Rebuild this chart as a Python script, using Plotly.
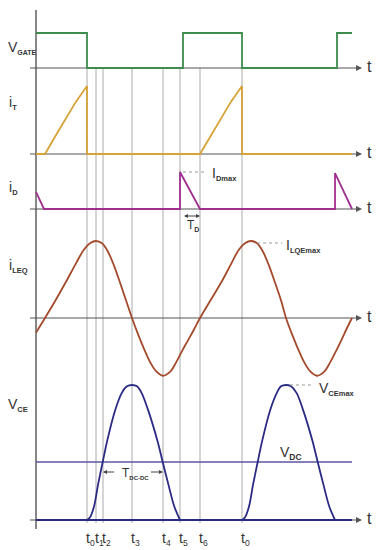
import plotly.graph_objects as go

W, H = 377, 550

# ---------------- data (time in arbitrary units, t = 0 at the vertical axis) ----------------
t_events = [51, 60, 67, 96, 127, 144, 164, 206]
t_event_labels = ["0", "1", "2", "3", "4", "5", "6", "0"]

gate_t = [0, 51, 51, 147, 147, 206, 206, 301, 301, 316]
gate_v = [1, 1, 0, 0, 1, 1, 0, 0, 1, 1]

iT_t = [0, 9, 20, 30, 40, 51, 51, 164, 175, 185, 195, 206, 206, 316]
iT_v = [0, 0, 0.28, 0.53, 0.77, 1, 0, 0, 0.28, 0.53, 0.77, 1, 0, 0]

iD_t = [0, 8, 144, 144, 164, 299, 299, 316]
iD_v = [0.46, 0, 0, 1, 0, 0, 0.97, 0]

iLEQ_t = [0, 9, 20, 30, 40, 48, 54, 60, 66, 72, 78, 84, 90, 96, 102, 108, 114, 120, 127,
          134, 140, 146, 152, 158, 164, 175, 186, 195, 203, 209, 215, 221, 227, 233, 239,
          245, 250, 256, 262, 268, 274, 281, 288, 294, 300, 306, 311, 316]
iLEQ_v = [-0.19, 0, 0.24, 0.47, 0.71, 0.89, 0.97, 1, 0.97, 0.86, 0.68, 0.46, 0.23, 0,
          -0.21, -0.4, -0.57, -0.69, -0.75, -0.7, -0.58, -0.43, -0.29, -0.15, 0,
          0.24, 0.48, 0.7, 0.89, 0.97, 1, 0.97, 0.86, 0.68, 0.46, 0.23, 0,
          -0.21, -0.4, -0.57, -0.69, -0.75, -0.7, -0.58, -0.43, -0.27, -0.13, 0]

vce_base_t = [0, 316]
vce_base_v = [0, 0]
vce_bump1_t = [51, 54, 58, 62, 66.7, 71.3, 79, 85.7, 91, 96, 101, 105.7, 112.3, 121.3, 126.7, 132.5, 138.3, 144]
vce_bump1_v = [0, 0.02, 0.1, 0.26, 0.43, 0.59, 0.81, 0.94, 0.99, 1, 0.99, 0.94, 0.81, 0.59, 0.43, 0.26, 0.1, 0]
vce_bump2_t = [206, 209, 213, 217, 221.7, 226.3, 234, 240.7, 245, 250, 255, 260.7, 267.3, 276.3, 281.7, 287.5, 293.3, 299]
vce_bump2_v = [0, 0.02, 0.1, 0.26, 0.43, 0.59, 0.81, 0.94, 0.99, 1, 0.99, 0.94, 0.81, 0.59, 0.43, 0.26, 0.1, 0]

vdc_t = [0, 316]
vdc_v = [0.43, 0.43]

# ---------------- layout helpers ----------------
X0_PX = 36                 # pixel column of t = 0
def yp(px):
    return 1 - px / H

# (baseline px, px per unit, top px, bottom px)
PANELS = [(68, 35, 18, 76), (154, 68, 78, 161), (209, 37, 163, 216),
          (318, 77, 231, 380), (520, 135, 381, 526)]

C_GATE = "#3d8c4e"
C_IT = "#d6a23a"
C_ID = "#a0308f"
C_ILEQ = "#a44a2c"
C_VCE = "#2a2a84"
C_VDC = "#5e56a2"
C_AX = "#555555"
C_GRID = "#b9b9b9"
C_TXT = "#333333"
FONT = "Liberation Sans, Arial, sans-serif"

fig = go.Figure()

def add(tx, vy, color, row, shape="linear", width=1.8, smoothing=1.0):
    line = dict(color=color, width=width, shape=shape)
    if shape == "spline":
        line["smoothing"] = smoothing
    fig.add_trace(go.Scatter(x=tx, y=vy, mode="lines", xaxis="x",
                             yaxis="y" if row == 1 else f"y{row}",
                             line=line, hoverinfo="skip", showlegend=False))

add(gate_t, gate_v, C_GATE, 1)
add(iT_t, iT_v, C_IT, 2)
add(iD_t, iD_v, C_ID, 3)
add(iLEQ_t, iLEQ_v, C_ILEQ, 4, shape="spline", smoothing=1.0)
add(vdc_t, vdc_v, C_VDC, 5, width=1.6)
add(vce_base_t, vce_base_v, C_VCE, 5)
add(vce_bump1_t, vce_bump1_v, C_VCE, 5, shape="spline", smoothing=0.9)
add(vce_bump2_t, vce_bump2_v, C_VCE, 5, shape="spline", smoothing=0.9)

layout = dict(
    width=W, height=H, margin=dict(l=0, r=0, t=0, b=0),
    paper_bgcolor="white", plot_bgcolor="rgba(0,0,0,0)",
    xaxis=dict(range=[-X0_PX, W - X0_PX], visible=False, fixedrange=True),
    showlegend=False,
)
for i, (b, s, top, bot) in enumerate(PANELS):
    key = "yaxis" if i == 0 else f"yaxis{i + 1}"
    layout[key] = dict(domain=[yp(bot), yp(top)], range=[(b - bot) / s, (b - top) / s],
                       visible=False, anchor="x", fixedrange=True)
fig.update_layout(**layout)

shapes = []
ann = []
# event lines
for te in t_events:
    shapes.append(dict(type="line", xref="x", yref="paper", x0=te, x1=te, y0=yp(523), y1=yp(68),
                       line=dict(color=C_GRID, width=1.2), layer="below"))
# horizontal axes + arrows + "t"
for (b, s, top, bot) in PANELS:
    shapes.append(dict(type="line", xref="x", yref="paper", x0=-6, x1=322, y0=yp(b), y1=yp(b),
                       line=dict(color=C_AX, width=1.2), layer="below"))
    ann.append(dict(x=326, y=yp(b), xref="x", yref="paper", text=" ", showarrow=True,
                    ax=-7, ay=0, arrowhead=2, arrowsize=1, arrowwidth=1.2, arrowcolor=C_AX))
    ann.append(dict(x=328.5, y=yp(b) + 0.002, xref="x", yref="paper", text="t", showarrow=False,
                    xanchor="left", yanchor="middle", font=dict(size=16, color=C_TXT, family=FONT)))
# vertical axis
shapes.append(dict(type="line", xref="x", yref="paper", x0=0, x1=0, y0=yp(529), y1=yp(10),
                   line=dict(color=C_AX, width=1.4), layer="below"))
ann.append(dict(x=0, y=yp(5), xref="x", yref="paper", text=" ", showarrow=True,
                ax=0, ay=8, arrowhead=2, arrowsize=1, arrowwidth=1.3, arrowcolor=C_AX))

def sub(main, s, size=7.5):
    return f"{main}<sub><span style='font-size:{size}px'><b>{s}</b></span></sub>"

def label(tx, py, text, size=14, anchor="left"):
    ann.append(dict(x=tx, y=yp(py), xref="x", yref="paper", text=text, showarrow=False,
                    xanchor=anchor, yanchor="middle", font=dict(size=size, color=C_TXT, family=FONT)))

# left labels
label(-30, 47, sub("V", "GATE", 7))
label(-29, 103, sub("i", "T"))
label(-29, 188, sub("i", "D"))
label(-29, 266, sub("i", "LEQ"))
label(-30, 405, sub("V", "CE"))

# leader lines
for (ta, tb, py) in [(147, 171, 172), (221, 246, 243), (254, 277, 385)]:
    shapes.append(dict(type="line", xref="x", yref="paper", x0=ta, x1=tb, y0=yp(py), y1=yp(py),
                       line=dict(color="#999999", width=1, dash="dot")))
label(173.5, 174, sub("I", "Dmax"))
label(247.5, 246, sub("I", "LQEmax"))
label(281, 389, sub("V", "CEmax"))
label(241.5, 453, sub("V", "DC", 8.5))

# T_D
ann.append(dict(x=164, y=yp(216), xref="x", yref="paper", text=" ", showarrow=True,
                ax=-19, ay=0, arrowhead=2, startarrowhead=2, arrowside="end+start",
                arrowsize=0.8, arrowwidth=1, arrowcolor="#444444"))
label(149, 225, sub("T", "D", 7), size=12)

# T_DC-DC
ann.append(dict(x=67, y=yp(472), xref="x", yref="paper", text=" ", showarrow=True,
                ax=14, ay=0, arrowhead=2, arrowsize=0.8, arrowwidth=1, arrowcolor="#444444"))
ann.append(dict(x=127, y=yp(472), xref="x", yref="paper", text=" ", showarrow=True,
                ax=-15, ay=0, arrowhead=2, arrowsize=0.8, arrowwidth=1, arrowcolor="#444444"))
label(84, 473, sub("T", "DC-DC", 6), size=12)

# bottom time labels
for te, lab in zip(t_events, t_event_labels):
    ann.append(dict(x=te, y=yp(539), xref="x", yref="paper",
                    text=f"t<sub><span style='font-size:8.5px'>{lab}</span></sub>",
                    showarrow=False, xanchor="left", xshift=-3.5, yanchor="middle",
                    font=dict(size=14, color=C_TXT, family=FONT)))

fig.update_layout(shapes=shapes, annotations=ann)
fig.write_html("out.html", config={"displayModeBar": False},
               post_script="document.body.style.margin='0px';document.body.style.overflow='hidden';")
